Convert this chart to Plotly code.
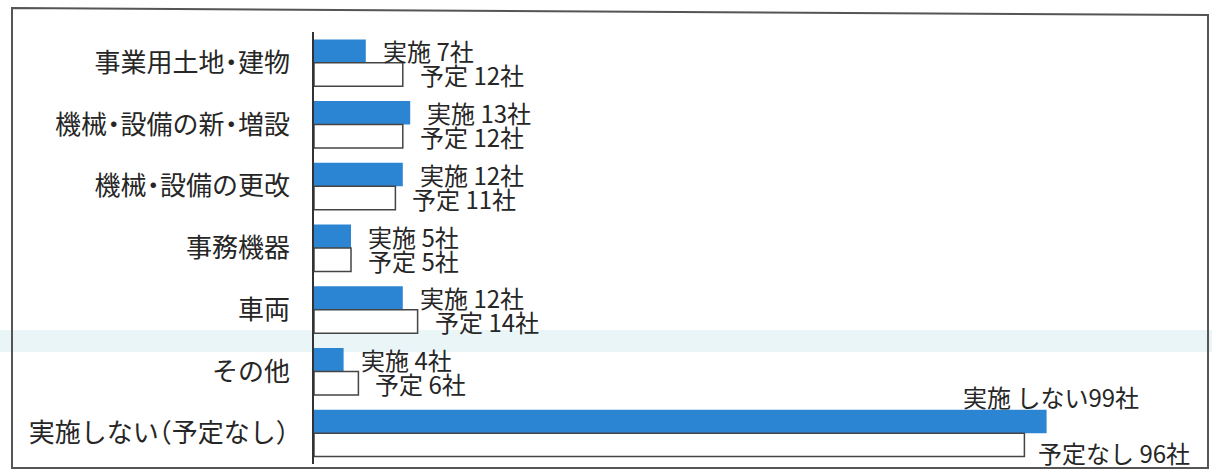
import plotly.graph_objects as go

categories = ["事業用土地・建物", "機械・設備の新・増設", "機械・設備の更改", "事務機器", "車両", "その他", "実施しない（予定なし）"]
jisshi = [7, 13, 12, 5, 12, 4, 99]
yotei = [12, 12, 11, 5, 14, 6, 96]
jisshi_labels = ["実施 7社", "実施 13社", "実施 12社", "実施 5社", "実施 12社", "実施 4社", "実施 しない99社"]
yotei_labels = ["予定 12社", "予定 12社", "予定 11社", "予定 5社", "予定 14社", "予定 6社", "予定なし 96社"]

FONT = "Noto Sans CJK JP, Noto Sans, sans-serif"
BLUE = "#2C85D2"
TEXT = "#262626"


def tick_text(label):
    # narrow the full-width middle dot / brackets like the reference font
    out = ""
    chars = list(label)
    for i, ch in enumerate(chars):
        nxt = chars[i + 1] if i + 1 < len(chars) else ""
        if ch == "・" or nxt == "・":
            out += f'<span style="letter-spacing:-0.24em">{ch}</span>'
        elif nxt == "（":
            out += f'<span style="letter-spacing:-0.5em">{ch}</span>'
        elif ch == "）":
            out += f'<span style="letter-spacing:-0.45em">{ch}</span>'
        else:
            out += ch
    return out


tick_texts = [tick_text(c) for c in categories]

fig = go.Figure()
fig.add_trace(go.Bar(y=categories, x=jisshi, orientation="h", name="実施",
                     marker=dict(color=BLUE, line=dict(width=0)), hoverinfo="x+y"))
fig.add_trace(go.Bar(y=categories, x=yotei, orientation="h", name="予定",
                     marker=dict(color="white", line=dict(color="#444444", width=1.5)), hoverinfo="x+y"))

LBL = dict(size=24, color=TEXT, family=FONT)
annotations = []
n = len(categories)
for i, (c, a, b, la, lb) in enumerate(zip(categories, jisshi, yotei, jisshi_labels, yotei_labels)):
    if i == n - 1:
        annotations.append(dict(x=a, y=c, text=la, showarrow=False, xanchor="center", yanchor="middle",
                                xshift=4, yshift=37, font=LBL))
        annotations.append(dict(x=b, y=c, text=lb, showarrow=False, xanchor="left", yanchor="middle",
                                xshift=12, yshift=-19, font=LBL))
    else:
        annotations.append(dict(x=a, y=c, text=la, showarrow=False, xanchor="left", yanchor="middle",
                                xshift=15, yshift=12, font=LBL))
        annotations.append(dict(x=b, y=c, text=lb, showarrow=False, xanchor="left", yanchor="middle",
                                xshift=15, yshift=-12, font=LBL))

W, H = 1212, 472
ML, MR, MT, MB = 314, 10, 32, 8
PW, PH = W - ML - MR, H - MT - MB


def px(xp):
    return (xp - ML) / PW


def py(yp):
    return (H - MB - yp) / PH


shapes = [
    # faint scan band in the background
    dict(type="rect", xref="paper", yref="paper", x0=px(0), x1=px(W), y0=py(352), y1=py(330),
         fillcolor="#EAF5F8", line=dict(width=0), layer="below"),
    # outer frame
    dict(type="path", xref="paper", yref="paper",
         path=f"M {px(12)},{py(8)} L {px(1208)},{py(15)} L {px(1208)},{py(468)} L {px(12)},{py(468)} Z",
         line=dict(color="#555555", width=2), fillcolor="rgba(0,0,0,0)", layer="above"),
]

fig.update_layout(
    width=W, height=H,
    margin=dict(l=ML, r=MR, t=MT, b=MB, autoexpand=False),
    paper_bgcolor="white", plot_bgcolor="rgba(0,0,0,0)",
    barmode="group", bargap=0.24, bargroupgap=0,
    showlegend=False,
    annotations=annotations,
    shapes=shapes,
    font=dict(family=FONT, color=TEXT),
)
fig.update_xaxes(range=[0, 120], visible=False, showgrid=False, zeroline=False)
fig.update_yaxes(range=[len(categories) - 0.5, -0.5], autorange=False, showgrid=False, zeroline=False,
                 showline=True, linecolor="#333333", linewidth=1.5, ticks="", ticklabelstandoff=17,
                 tickmode="array", tickvals=categories, ticktext=tick_texts,
                 tickfont=dict(size=26, color=TEXT, family=FONT))

fig.write_html("out.html")
